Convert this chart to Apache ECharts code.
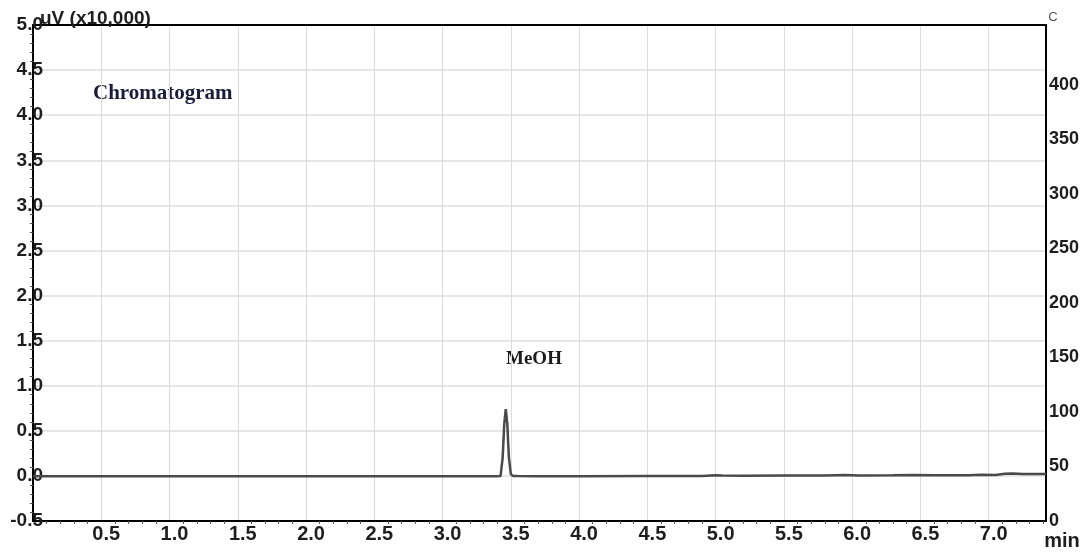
<!DOCTYPE html>
<html><head><meta charset="utf-8">
<script src="https://cdn.jsdelivr.net/npm/echarts@6/dist/echarts.min.js"></script>
<style>html,body{margin:0;padding:0;background:#fff}#c{width:1088px;height:554px}</style>
</head><body><div id="c"></div>
<script>
// Retention time (min) and detector signal (uV x10,000)
const timeMin = [0.00, 0.50, 1.00, 1.50, 2.00, 2.50, 3.00, 3.30, 3.40, 3.425, 3.44, 3.452, 3.463, 3.474, 3.486, 3.50, 3.515, 3.55, 3.70, 4.00, 4.50, 4.90, 5.00, 5.05, 5.20, 5.50, 5.80, 5.95, 6.05, 6.30, 6.45, 6.60, 6.85, 6.95, 7.05, 7.12, 7.18, 7.25, 7.35, 7.42];
const signal  = [-0.005, -0.005, -0.005, -0.005, -0.005, -0.005, -0.005, -0.005, -0.004, 0.00, 0.20, 0.58, 0.74, 0.58, 0.20, 0.02, 0.00, -0.002, -0.003, -0.003, -0.002, -0.001, 0.008, 0.004, 0.003, 0.005, 0.004, 0.009, 0.005, 0.006, 0.011, 0.006, 0.007, 0.013, 0.009, 0.024, 0.026, 0.022, 0.021, 0.020];
const xRange = [0, 7.42];
const leftRange = [-0.5, 5.0];
const rightRange = [0, 455];
const rightTickMax = 400;
const yAxisName = 'uV (x10,000)';
const rightAxisName = 'C';
const xAxisName = 'min';
const chartTitle = 'Chromatogram';
const peakLabel = 'MeOH';

const chart = echarts.init(document.getElementById('c'));
const labelFont = 'Liberation Sans, Arial, sans-serif';
const labelColor = '#1e1e1e';
chart.setOption({
  animation: false,
  grid: {left: 33, right: 42, top: 25, bottom: 33},
  xAxis: [{
    type: 'value', min: xRange[0], max: xRange[1], interval: 0.5, position: 'bottom',
    axisLine: {show: true, onZero: false, lineStyle: {color: '#000', width: 2}},
    axisTick: {show: false},
    minorTick: {show: true, splitNumber: 5, length: 3, lineStyle: {color: '#555'}},
    splitLine: {show: true, lineStyle: {color: '#dcdcdc', width: 1}},
    axisLabel: {
      margin: 3, fontSize: 20, fontWeight: 'bold', color: labelColor, fontFamily: labelFont, padding: [0, 0, 0, 10],
      formatter: v => (v > 0 && Math.abs(v * 2 - Math.round(v * 2)) < 1e-6) ? v.toFixed(1) : ''
    }
  }, {
    type: 'value', min: xRange[0], max: xRange[1], interval: 0.5, position: 'top',
    axisLine: {show: true, onZero: false, lineStyle: {color: '#000', width: 2}},
    axisTick: {show: false}, axisLabel: {show: false}, splitLine: {show: false}
  }],
  yAxis: [{
    type: 'value', min: leftRange[0], max: leftRange[1], interval: 0.5,
    axisLine: {show: true, onZero: false, lineStyle: {color: '#000', width: 2}},
    axisTick: {show: false},
    minorTick: {show: true, splitNumber: 5, length: 3, lineStyle: {color: '#555'}},
    splitLine: {show: true, lineStyle: {color: '#e6e6e6', width: 2}},
    axisLabel: {margin: -10, fontSize: 19, fontWeight: 'bold', color: labelColor, fontFamily: labelFont, padding: [8, 0, 0, 0],
      formatter: v => v.toFixed(1)}
  }, {
    type: 'value', min: rightRange[0], max: rightRange[1], interval: 50, position: 'right',
    axisLine: {show: true, onZero: false, lineStyle: {color: '#000', width: 2}},
    axisTick: {show: false},
    splitLine: {show: false},
    axisLabel: {margin: 3, fontSize: 18, fontWeight: 'bold', color: labelColor, fontFamily: labelFont,
      formatter: v => (v <= rightTickMax && v % 50 === 0) ? String(v) : ''}
  }],
  series: [{
    type: 'line', xAxisIndex: 0, yAxisIndex: 0, showSymbol: false, symbol: 'none',
    lineStyle: {color: '#4a4a4a', width: 2.5},
    data: timeMin.map((t, i) => [t, signal[i]])
  }],
  graphic: [
    {type: 'text', x: 40, y: 19, z: 5, style: {text: yAxisName, font: 'bold 19px Liberation Sans, Arial, sans-serif', fill: labelColor, align: 'left', verticalAlign: 'middle'}},
    {type: 'text', x: 1053, y: 17, style: {text: rightAxisName, font: '13px Liberation Sans, Arial, sans-serif', fill: '#555', align: 'center', verticalAlign: 'middle'}},
    {type: 'text', x: 1062, y: 541, style: {text: xAxisName, font: 'bold 20px Liberation Sans, Arial, sans-serif', fill: labelColor, align: 'center', verticalAlign: 'middle'}},
    {type: 'text', x: 93, y: 94, style: {text: chartTitle, font: 'bold 21px Liberation Serif, Times New Roman, serif', fill: '#1c1c3a', align: 'left', verticalAlign: 'middle'}},
    {type: 'text', x: 506, y: 359, style: {text: peakLabel, font: 'bold 19px Liberation Serif, Times New Roman, serif', fill: '#1c1c1c', align: 'left', verticalAlign: 'middle'}}
  ]
});
</script>
</body></html>
